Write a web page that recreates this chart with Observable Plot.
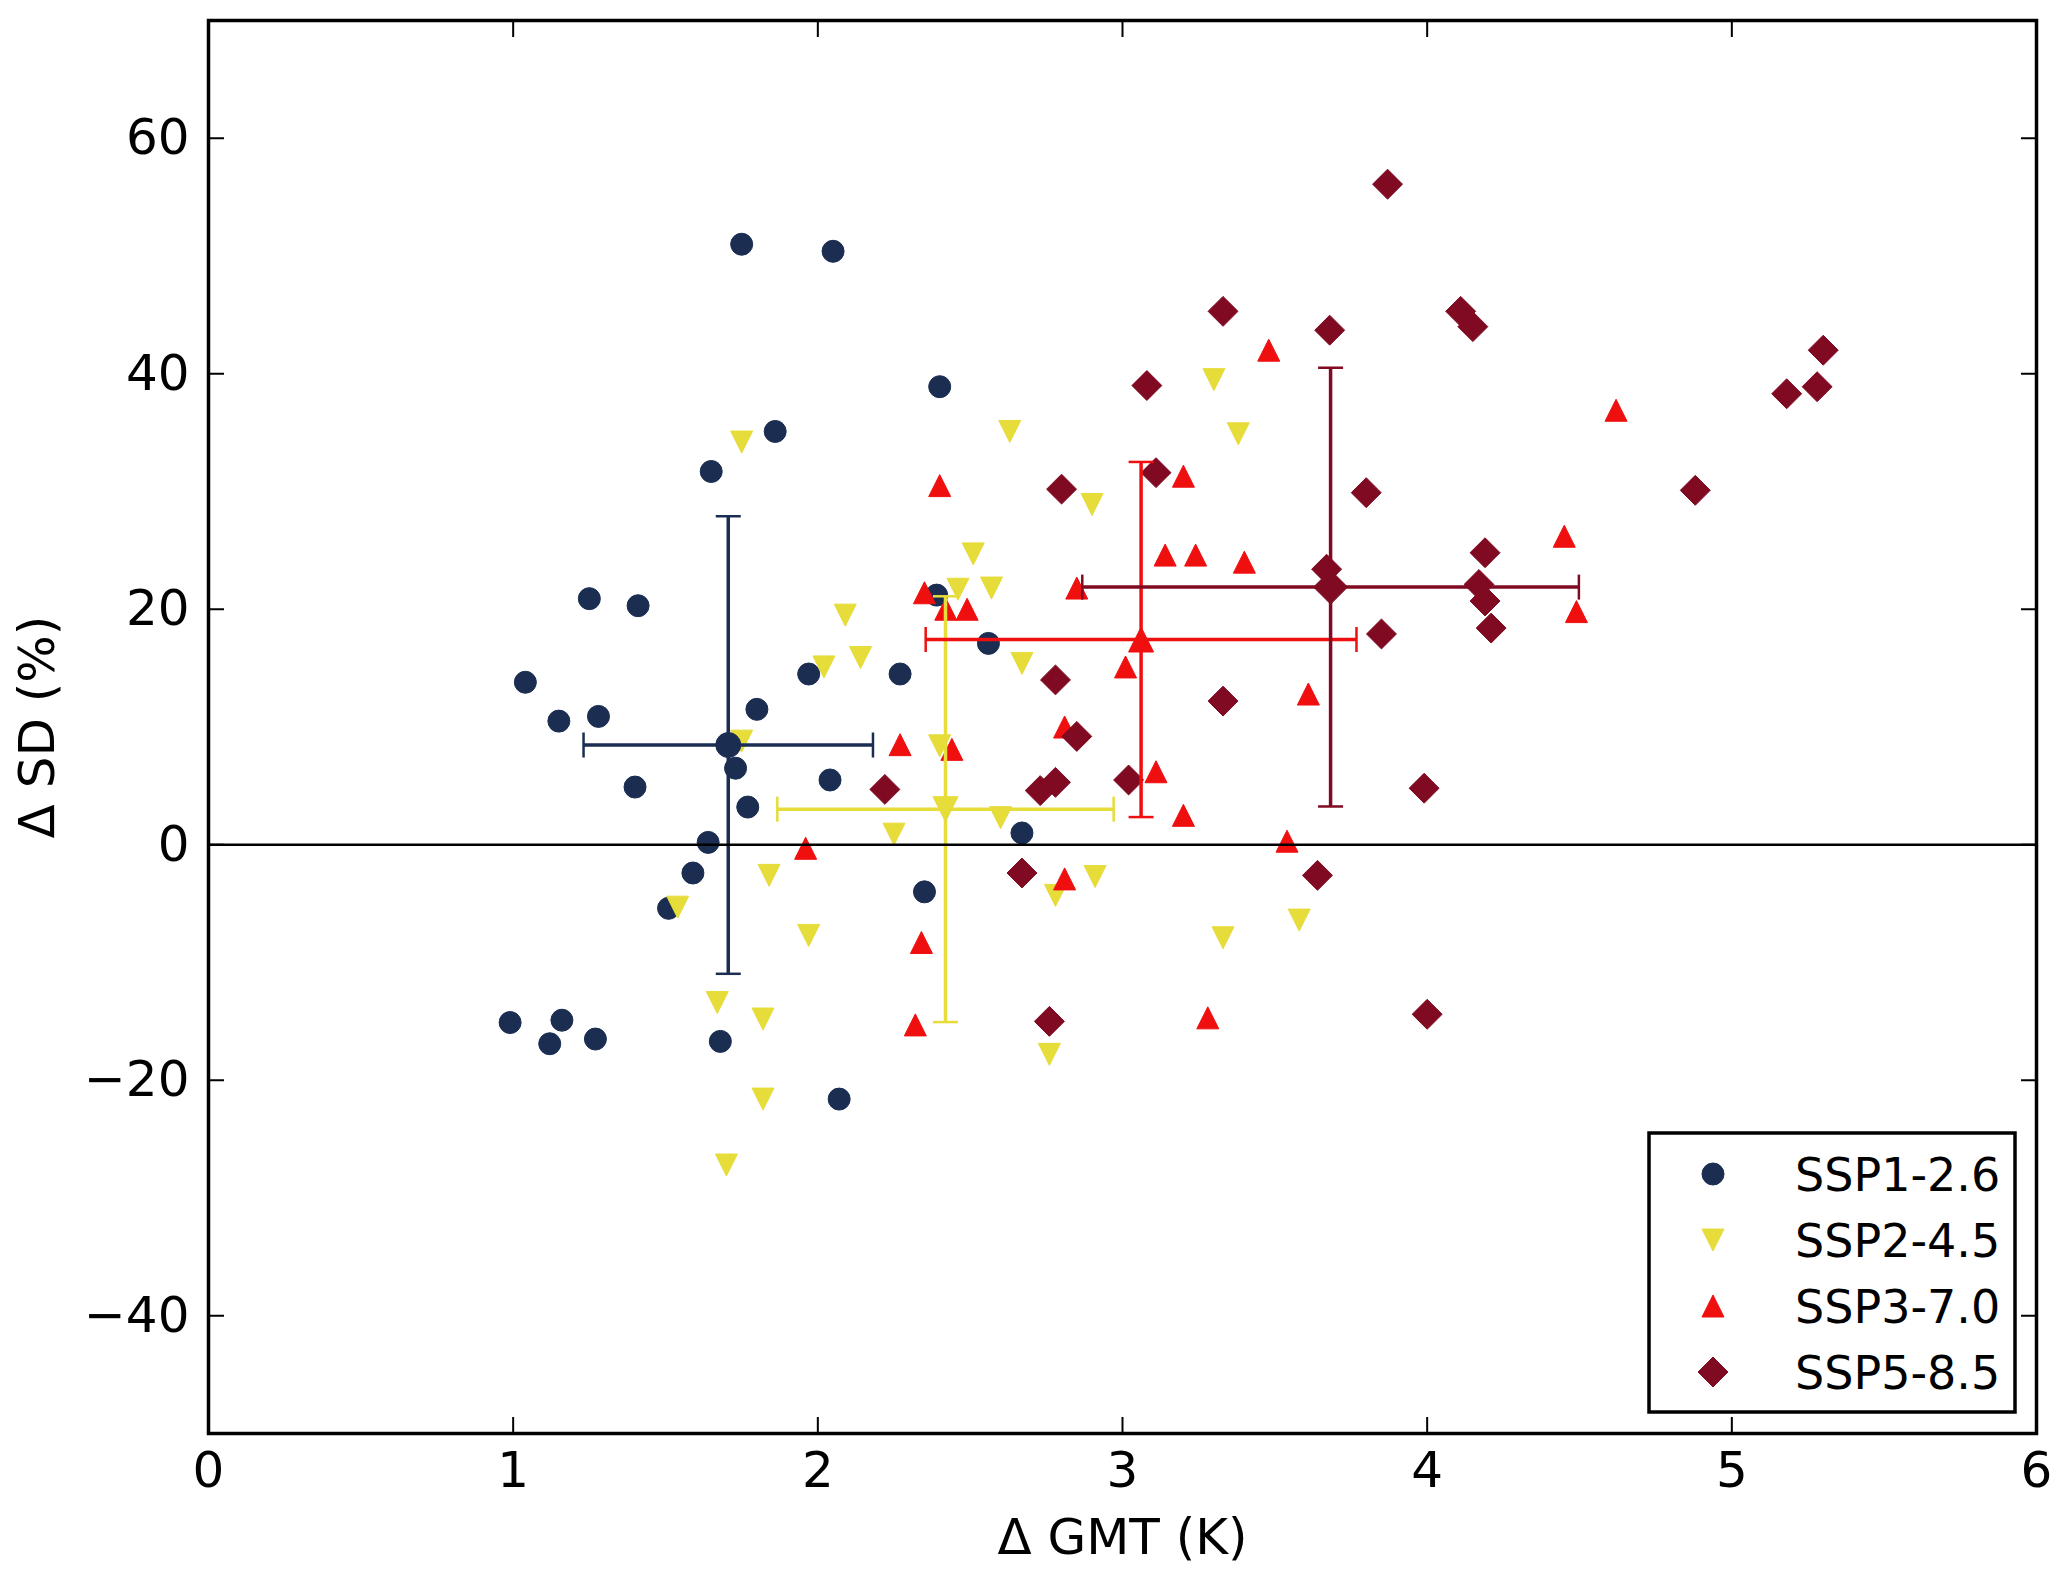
<!DOCTYPE html>
<html><head><meta charset="utf-8">
<script src="https://cdn.jsdelivr.net/npm/d3@7"></script>
<script src="https://cdn.jsdelivr.net/npm/@observablehq/plot@0.6"></script>
<style>html,body{margin:0;padding:0;background:#fff;}</style>
</head><body><div id="chart"></div>
<script>
const scenarios = ["SSP1-2.6", "SSP2-4.5", "SSP3-7.0", "SSP5-8.5"];

const ssp126_gmt = [0.99, 1.04, 1.12, 1.15, 1.16, 1.25, 1.27, 1.28, 1.40, 1.41, 1.51, 1.59, 1.64, 1.65, 1.68, 1.73, 1.75, 1.77, 1.80, 1.86, 1.97, 2.04, 2.05, 2.07, 2.27, 2.35, 2.39, 2.40, 2.56, 2.67];
const ssp126_sd  = [-15.1, 13.8, -16.9, 10.5, -14.9, 20.9, -16.5, 10.9, 4.9, 20.3, -5.4, -2.4, 0.2, 31.7, -16.7, 6.5, 51.0, 3.2, 11.5, 35.1, 14.5, 5.5, 50.4, -21.6, 14.5, -4.0, 21.2, 38.9, 17.1, 1.0];

const ssp245_gmt = [1.54, 1.67, 1.70, 1.75, 1.75, 1.82, 1.82, 1.84, 1.97, 2.02, 2.09, 2.14, 2.25, 2.40, 2.46, 2.51, 2.57, 2.60, 2.63, 2.67, 2.76, 2.78, 2.90, 2.91, 3.30, 3.33, 3.38, 3.58];
const ssp245_sd  = [-5.3, -13.4, -27.2, 34.2, 8.8, -14.8, -21.6, -2.6, -7.7, 15.1, 19.5, 15.9, 0.9, 8.4, 21.7, 24.7, 21.8, 2.3, 35.1, 15.4, -17.8, -4.3, 28.9, -2.7, 39.5, -7.9, 34.9, -6.4];

const ssp370_gmt = [1.96, 2.27, 2.32, 2.34, 2.35, 2.40, 2.42, 2.44, 2.49, 2.81, 2.81, 2.85, 3.01, 3.11, 3.14, 3.20, 3.20, 3.24, 3.28, 3.40, 3.48, 3.54, 3.61, 4.45, 4.49, 4.62];
const ssp370_sd  = [-0.3, 8.5, -15.3, -8.3, 21.4, 30.5, 20.0, 8.1, 20.0, -2.9, 10.0, 21.8, 15.1, 6.2, 24.6, 31.3, 2.5, 24.6, -14.7, 24.0, 42.0, 0.3, 12.8, 26.2, 19.8, 36.9];

const ssp585_gmt = [2.22, 2.67, 2.73, 2.76, 2.78, 2.78, 2.80, 2.85, 3.02, 3.08, 3.11, 3.33, 3.33, 3.64, 3.67, 3.68, 3.80, 3.85, 3.87, 3.99, 4.00, 4.11, 4.15, 4.17, 4.19, 4.19, 4.21, 4.88, 5.18, 5.28, 5.30];
const ssp585_sd  = [4.7, -2.4, 4.6, -15.0, 5.3, 14.0, 30.2, 9.2, 5.5, 39.0, 31.6, 12.2, 45.3, -2.6, 23.4, 43.7, 29.9, 17.9, 56.1, 4.8, -14.4, 45.3, 44.0, 22.1, 20.7, 24.8, 18.4, 30.1, 38.3, 38.9, 42.0];

// ensemble mean and standard deviation per scenario
const mean_gmt = [1.706, 2.419, 3.061, 3.683];
const std_gmt  = [0.475, 0.552, 0.707, 0.815];
const mean_sd  = [8.47, 3.02, 17.43, 21.88];
const std_sd   = [19.43, 18.08, 15.08, 18.63];

const xTicks = [0, 1, 2, 3, 4, 5, 6];
const yTicks = [-40, -20, 0, 20, 40, 60];

const colors = ["#1b2e52", "#e6dc3a", "#f00f0f", "#800a22"];

// marker shapes
const rOf = s => Math.sqrt(s / Math.PI);
const triUp = {draw(c, s) { const r = rOf(s); c.moveTo(0, -r); c.lineTo(r, r); c.lineTo(-r, r); c.closePath(); }};
const triDown = {draw(c, s) { const r = rOf(s); c.moveTo(0, r); c.lineTo(r, -r); c.lineTo(-r, -r); c.closePath(); }};
const diamond = {draw(c, s) { const r = rOf(s) * 1.36; c.moveTo(0, -r); c.lineTo(r, 0); c.lineTo(0, r); c.lineTo(-r, 0); c.closePath(); }};
const hCap = {draw(c, s) { const r = rOf(s); c.moveTo(-r, 0); c.lineTo(r, 0); }};
const vCap = {draw(c, s) { const r = rOf(s); c.moveTo(0, -r); c.lineTo(0, r); }};
const symbols = [d3.symbolCircle, triDown, triUp, diamond];

const groups = [[ssp126_gmt, ssp126_sd], [ssp245_gmt, ssp245_sd], [ssp370_gmt, ssp370_sd], [ssp585_gmt, ssp585_sd]];
const points = groups.flatMap(([gx, gy], i) => gx.map((x, j) => ({scenario: scenarios[i], gmt: x, sd: gy[j]})));
const stats = scenarios.map((s, i) => ({
  scenario: s, gmt: mean_gmt[i], sd: mean_sd[i],
  gmtLo: mean_gmt[i] - std_gmt[i], gmtHi: mean_gmt[i] + std_gmt[i],
  sdLo: mean_sd[i] - std_sd[i], sdHi: mean_sd[i] + std_sd[i]
}));

const marks = [];
scenarios.forEach((s, i) => {
  marks.push(Plot.dot(points.filter(d => d.scenario === s), {x: "gmt", y: "sd", r: 11, symbol: symbols[i], fill: "scenario", stroke: "scenario", strokeWidth: 1}));
});
scenarios.forEach((s, i) => {
  const st = stats.filter(d => d.scenario === s);
  marks.push(
    Plot.ruleY(st, {y: "sd", x1: "gmtLo", x2: "gmtHi", stroke: "scenario", strokeWidth: 3.5}),
    Plot.ruleX(st, {x: "gmt", y1: "sdLo", y2: "sdHi", stroke: "scenario", strokeWidth: 3.5}),
    Plot.dot(st, {x: "gmtLo", y: "sd", r: 12.5, symbol: vCap, fill: "none", stroke: "scenario", strokeWidth: 2.5}),
    Plot.dot(st, {x: "gmtHi", y: "sd", r: 12.5, symbol: vCap, fill: "none", stroke: "scenario", strokeWidth: 2.5}),
    Plot.dot(st, {x: "gmt", y: "sdLo", r: 12.5, symbol: hCap, fill: "none", stroke: "scenario", strokeWidth: 2.5}),
    Plot.dot(st, {x: "gmt", y: "sdHi", r: 12.5, symbol: hCap, fill: "none", stroke: "scenario", strokeWidth: 2.5}),
    Plot.dot(st, {x: "gmt", y: "sd", r: 12.5, symbol: symbols[i], fill: "scenario", stroke: "scenario", strokeWidth: 1})
  );
});

const chart = Plot.plot({
  width: 2067, height: 1577,
  marginLeft: 208, marginRight: 31, marginTop: 20, marginBottom: 144,
  style: {background: "white", color: "black", fontFamily: "'DejaVu Sans', sans-serif", fontSize: "50px", overflow: "visible"},
  x: {domain: [0, 6], axis: null},
  y: {domain: [-50, 70], axis: null},
  color: {type: "ordinal", domain: scenarios, range: colors},
  marks: [
    ...marks,
    Plot.ruleY([0], {stroke: "black", strokeWidth: 2.5}),
    Plot.axisX(xTicks, {anchor: "bottom", tickSize: 0, tickPadding: 18, fontSize: 50, tickFormat: d3.format("d"), label: "Δ GMT (K)", labelAnchor: "center", labelArrow: "none", labelOffset: 120}),
    Plot.axisX(xTicks, {anchor: "bottom", tickSize: -16, fill: "none", strokeWidth: 2}),
    Plot.axisX(xTicks, {anchor: "top", tickSize: -16, fill: "none", strokeWidth: 2}),
    Plot.axisY(yTicks, {anchor: "left", tickSize: 0, tickPadding: 19, fontSize: 50, tickFormat: d3.format("d"), label: "Δ SD (%)", labelAnchor: "center", labelArrow: "none", labelOffset: 190}),
    Plot.axisY(yTicks, {anchor: "left", tickSize: -16, fill: "none", strokeWidth: 2}),
    Plot.axisY(yTicks, {anchor: "right", tickSize: -16, fill: "none", strokeWidth: 2}),
    Plot.frame({stroke: "black", strokeWidth: 3.5})
  ]
});

// legend inside the plot, lower right
const xs = chart.scale("x"), ys = chart.scale("y");
const frameRight = xs.range[1], frameBottom = ys.range[0];
const boxW = 366, boxH = 279, gap = 21;
const bx = frameRight - gap - boxW, by = frameBottom - gap - boxH;
const svg = d3.select(chart);
const lg = svg.append("g").attr("class", "legend").attr("text-anchor", "start");
lg.append("rect").attr("x", bx).attr("y", by).attr("width", boxW).attr("height", boxH)
  .attr("fill", "white").attr("stroke", "black").attr("stroke-width", 3.5);
scenarios.forEach((s, i) => {
  const cy = by + 41 + 66 * i;
  lg.append("path").attr("transform", `translate(${bx + 64},${cy})`)
    .attr("d", d3.symbol(symbols[i], Math.PI * 11 * 11)())
    .attr("fill", colors[i]).attr("stroke", colors[i]).attr("stroke-width", 1);
  lg.append("text").attr("x", bx + 146).attr("y", cy + 16.5)
    .attr("text-anchor", "start")
    .attr("font-family", "'DejaVu Sans', sans-serif").attr("font-size", 46).attr("fill", "black")
    .text(s);
});

document.getElementById("chart").appendChild(chart);
</script>
</body></html>
